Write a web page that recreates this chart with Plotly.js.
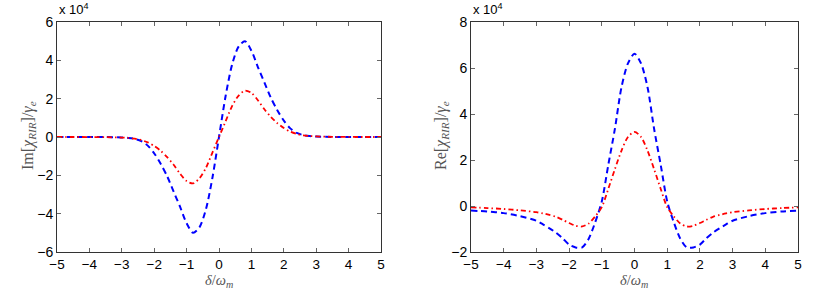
<!DOCTYPE html>
<html>
<head>
<meta charset="utf-8">
<script src="https://cdn.plot.ly/plotly-3.0.1.min.js"></script>
<style>html,body{margin:0;padding:0;background:#fff;}#chart{width:830px;height:289px;}</style>
</head>
<body>
<div id="chart"></div>
<script>
// detuning delta/omega_m
var xVals = [-5,-4.5,-4,-3.5,-3,-2.8,-2.6,-2.4,-2.2,-2,-1.8,-1.6,-1.4,-1.2,-1,-0.8,-0.6,-0.4,-0.2,
  0,0.2,0.4,0.6,0.8,1,1.2,1.4,1.6,1.8,2,2.2,2.4,2.6,2.8,3,3.5,4,4.5,5];

// Im[chi_RIR]/gamma_e  (units of 1e4)
var imBlue = [0,0,0,-0.005,-0.02,-0.05,-0.1,-0.21,-0.45,-0.85,-1.4,-2.05,-2.85,-3.65,-4.5,-5.0,-4.7,-3.75,-2.1,
  0,2.1,3.75,4.7,5.0,4.5,3.65,2.85,2.05,1.4,0.85,0.45,0.21,0.1,0.05,0.02,0.005,0,0,0];
var imRed = [0,0,-0.003,-0.01,-0.03,-0.05,-0.09,-0.16,-0.28,-0.47,-0.72,-1.05,-1.45,-1.92,-2.3,-2.42,-2.15,-1.6,-0.8,
  0,0.8,1.6,2.15,2.42,2.3,1.92,1.45,1.05,0.72,0.47,0.28,0.16,0.09,0.05,0.03,0.01,0.003,0,0];

// Re[chi_RIR]/gamma_e  (units of 1e4)
var reBlue = [-0.2,-0.24,-0.31,-0.44,-0.64,-0.8,-0.97,-1.16,-1.4,-1.68,-1.8,-1.8,-1.42,-0.7,0.2,1.8,3.35,5.15,6.2,
  6.62,6.2,5.15,3.35,1.8,0.2,-0.7,-1.42,-1.8,-1.8,-1.68,-1.4,-1.16,-0.97,-0.8,-0.64,-0.44,-0.31,-0.24,-0.2];
var reRed = [-0.06,-0.09,-0.13,-0.19,-0.27,-0.32,-0.39,-0.47,-0.6,-0.74,-0.86,-0.89,-0.76,-0.45,-0.05,0.75,1.6,2.4,3.0,
  3.22,3.0,2.4,1.6,0.75,-0.05,-0.45,-0.76,-0.89,-0.86,-0.74,-0.6,-0.47,-0.39,-0.32,-0.27,-0.19,-0.13,-0.09,-0.06];

var xTicks = [-5,-4,-3,-2,-1,0,1,2,3,4,5];
var yTicksIm = [-6,-4,-2,0,2,4,6];
var yTicksRe = [-2,0,2,4,6,8];

var blueLine = {color:'#0000ff', width:2, dash:'6px,4px', shape:'spline', smoothing:0.8};
var redLine = {color:'#ff0000', width:1.8, dash:'5px,3px,1.5px,3px', shape:'spline', smoothing:0.8};

var traces = [
  {x:xVals, y:imBlue, mode:'lines', line:blueLine, xaxis:'x', yaxis:'y', hoverinfo:'skip'},
  {x:xVals, y:imRed, mode:'lines', line:redLine, xaxis:'x', yaxis:'y', hoverinfo:'skip'},
  {x:xVals, y:reBlue, mode:'lines', line:blueLine, xaxis:'x2', yaxis:'y2', hoverinfo:'skip'},
  {x:xVals, y:reRed, mode:'lines', line:redLine, xaxis:'x2', yaxis:'y2', hoverinfo:'skip'}
];

var tickFont = {family:'Liberation Sans, Arial, sans-serif', size:14, color:'#000'};
var xTickFont = {family:'Liberation Sans, Arial, sans-serif', size:13.5, color:'#000'};
var labelFont = {family:'Liberation Serif, serif', size:16, color:'#555'};
var xLabelFont = {family:'Liberation Serif, serif', size:14.5, color:'#555'};
function axis(extra){
  var a = {showgrid:false, zeroline:false, showline:true, linecolor:'#333', linewidth:1,
    ticks:'inside', ticklen:4, tickcolor:'#666', tickwidth:1, mirror:'allticks',
    tickfont:tickFont, fixedrange:true};
  for (var k in extra) a[k]=extra[k];
  return a;
}
var yDom = [1-252/289, 1-22/289];
var layout = {
  width:830, height:289, margin:{l:0,r:0,t:0,b:0}, showlegend:false,
  paper_bgcolor:'#fff', plot_bgcolor:'#fff',
  xaxis: axis({domain:[57/830,381/830], range:[-5,5], tickvals:xTicks, anchor:'y', tickfont:xTickFont}),
  yaxis: axis({domain:yDom, range:[-6,6], tickvals:yTicksIm, anchor:'x'}),
  xaxis2: axis({domain:[471/830,798/830], range:[-5,5], tickvals:xTicks, anchor:'y2', tickfont:xTickFont}),
  yaxis2: axis({domain:yDom, range:[-2,8], tickvals:yTicksRe, anchor:'x2'}),
  annotations:[
    {xref:'paper', yref:'paper', x:28/830, y:1-136/289, text:'Im[<i>χ</i><sub><i>RIR</i></sub>]/<i>γ</i><sub><i>e</i></sub>',
     textangle:-90, showarrow:false, font:labelFont, xanchor:'center', yanchor:'middle'},
    {xref:'paper', yref:'paper', x:441/830, y:1-136/289, text:'Re[<i>χ</i><sub><i>RIR</i></sub>]/<i>γ</i><sub><i>e</i></sub>',
     textangle:-90, showarrow:false, font:labelFont, xanchor:'center', yanchor:'middle'},
    {xref:'paper', yref:'paper', x:219/830, y:0, text:'<i>δ</i>/<i>ω</i><sub><i>m</i></sub>',
     showarrow:false, font:xLabelFont, xanchor:'center', yanchor:'bottom', yshift:-2, borderpad:0},
    {xref:'paper', yref:'paper', x:634/830, y:0, text:'<i>δ</i>/<i>ω</i><sub><i>m</i></sub>',
     showarrow:false, font:xLabelFont, xanchor:'center', yanchor:'bottom', yshift:-2, borderpad:0},
    {xref:'paper', yref:'paper', x:57/830, y:1-19/289, text:'x 10<sup>4</sup>',
     showarrow:false, font:{family:'Liberation Sans, Arial, sans-serif', size:13, color:'#000'}, xanchor:'left', yanchor:'bottom'},
    {xref:'paper', yref:'paper', x:471/830, y:1-19/289, text:'x 10<sup>4</sup>',
     showarrow:false, font:{family:'Liberation Sans, Arial, sans-serif', size:13, color:'#000'}, xanchor:'left', yanchor:'bottom'}
  ]
};
Plotly.newPlot('chart', traces, layout, {staticPlot:true, displayModeBar:false});
</script>
</body>
</html>
